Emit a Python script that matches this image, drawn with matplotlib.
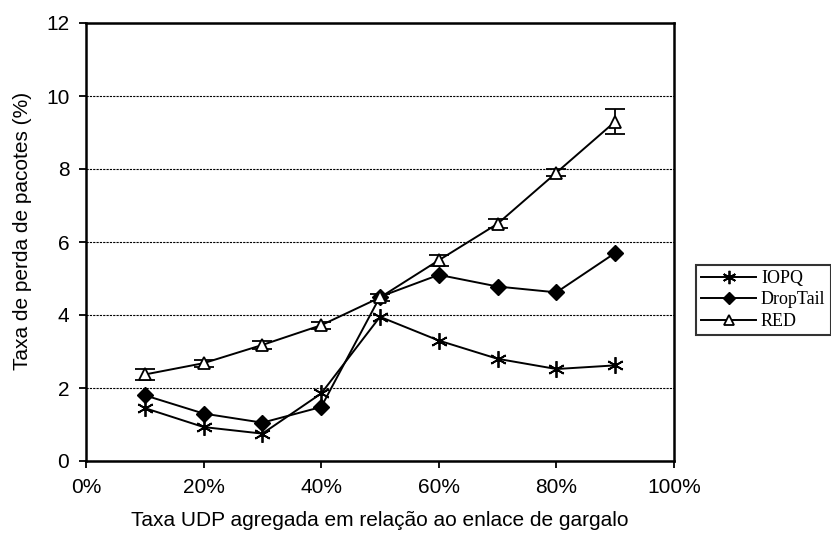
import matplotlib
matplotlib.use("Agg")
import matplotlib.pyplot as plt
import numpy as np

# x positions as fractions of bottleneck link rate
x = [0.1, 0.2, 0.3, 0.4, 0.5, 0.6, 0.7, 0.8, 0.9]

iopq = [1.45, 0.93, 0.75, 1.85, 3.95, 3.3, 2.8, 2.52, 2.62]
droptail = [1.8, 1.3, 1.05, 1.48, 4.5, 5.1, 4.78, 4.62, 5.7]
red = [2.37, 2.68, 3.18, 3.72, 4.48, 5.5, 6.5, 7.9, 9.3]
red_err = [0.15, 0.1, 0.1, 0.1, 0.1, 0.15, 0.12, 0.1, 0.35]

xticks = [0, 0.2, 0.4, 0.6, 0.8, 1.0]
xticklabels = ['0%', '20%', '40%', '60%', '80%', '100%']
yticks = [0, 2, 4, 6, 8, 10, 12]

fig = plt.figure(figsize=(8.31, 5.41), dpi=100)
ax = fig.add_axes([86 / 831, 80 / 541, 588 / 831, 438 / 541])

l1, = ax.plot(x, iopq, color='black', lw=1.4, marker=(6, 2, 0), ms=12, mew=1.3, label='IOPQ')
l2, = ax.plot(x, droptail, color='black', lw=1.4, marker='D', ms=8, label='DropTail')
eb = ax.errorbar(x, red, yerr=red_err, color='black', lw=1.4, marker='^', ms=9,
                 mfc='white', mew=1.3, capsize=7, elinewidth=1.3, capthick=1.3, label='RED')

ax.set_xlim(0, 1.0)
ax.set_ylim(0, 12)
ax.set_xticks(xticks)
ax.set_xticklabels(xticklabels)
ax.set_yticks(yticks)
ax.yaxis.grid(True, color='black', linestyle=(0, (2, 1)), lw=0.8)
ax.set_axisbelow(True)
for s in ax.spines.values():
    s.set_linewidth(1.8)
ax.tick_params(direction='out', length=5, width=1.3, labelsize=15, pad=7)
for lab in ax.get_xticklabels() + ax.get_yticklabels():
    lab.set_family('Liberation Sans')

ax.set_xlabel('Taxa UDP agregada em relação ao enlace de gargalo',
              family='Liberation Sans', fontsize=15, labelpad=10)
ax.set_ylabel('Taxa de perda de pacotes (%)', family='Liberation Sans',
              fontsize=15)
ax.yaxis.set_label_coords(-0.091, 0.526)

leg = ax.legend([l1, l2, eb[0]], ['IOPQ', 'DropTail', 'RED'],
                loc='center left', bbox_to_anchor=(696 / 831, 241 / 541),
                bbox_transform=fig.transFigure, frameon=True, fancybox=False,
                edgecolor='black', prop={'family': 'Liberation Serif', 'size': 13},
                handlelength=3.0, handletextpad=0.3, borderpad=0.3,
                labelspacing=0.25, borderaxespad=0, markerscale=0.8)
leg.get_frame().set_linewidth(1.5)

fig.savefig('out.png', dpi=100)
